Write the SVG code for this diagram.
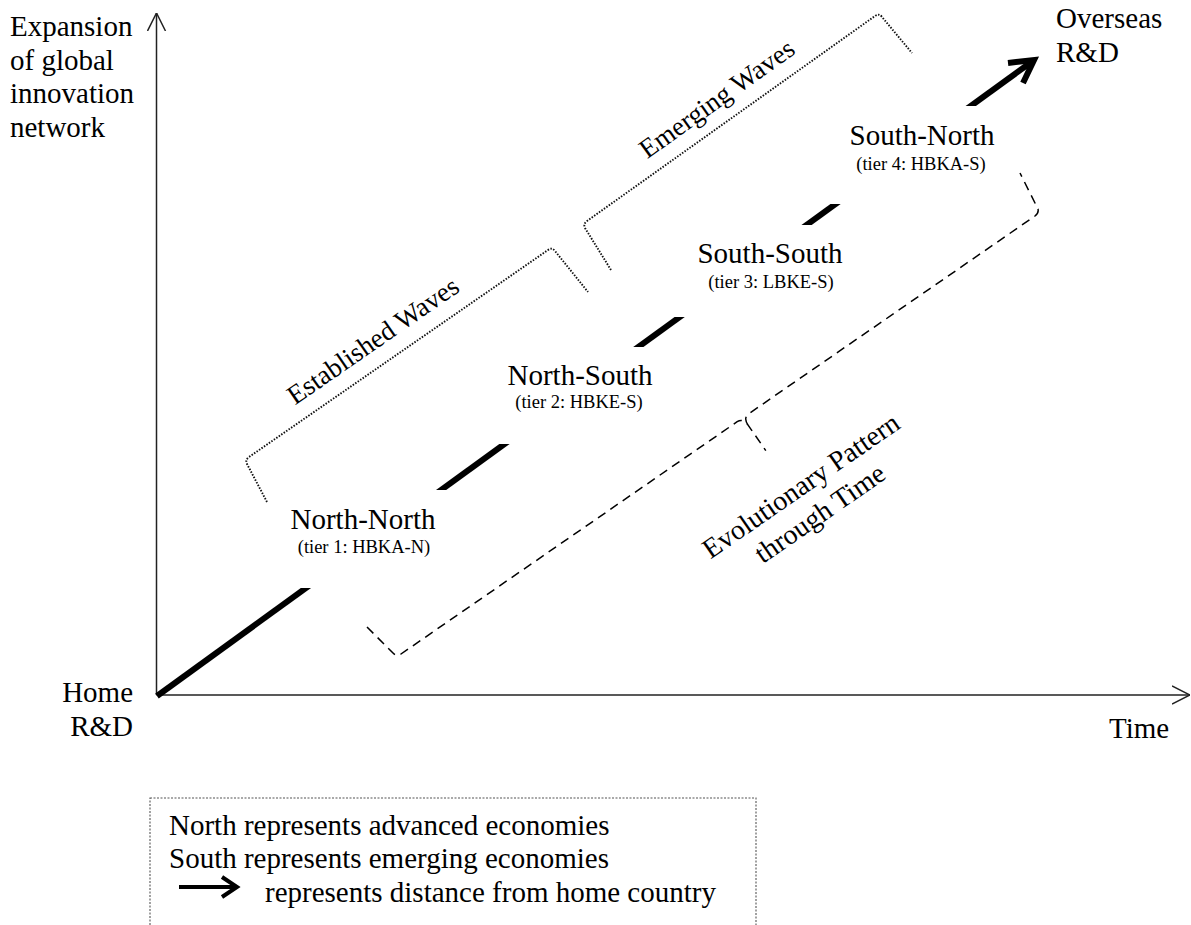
<svg xmlns="http://www.w3.org/2000/svg" width="1191" height="925" viewBox="0 0 1191 925" font-family="'Liberation Serif', 'Times New Roman', serif">
<style>
text{font-family:"Liberation Serif","Times New Roman",serif;fill:#000}
.big{font-size:29px}
.wave{font-size:27px;text-anchor:middle}
.small{font-size:18.5px}
.mid{text-anchor:middle}
.axis{stroke:#222;stroke-width:1.5;fill:none}
.dotted{stroke:#111;stroke-width:1.9;stroke-dasharray:1.5 1.5;fill:none}
.dashed{stroke:#000;stroke-width:1.5;stroke-dasharray:9 6;fill:none}
.thick{stroke:#000;stroke-width:6;fill:none}
.legendbox{stroke:#555;stroke-width:1.1;stroke-dasharray:2 1.5;fill:none}
</style>
<defs>
<marker id="open" viewBox="0 0 18 20" refX="18" refY="10" markerWidth="18" markerHeight="20" markerUnits="userSpaceOnUse" orient="auto"><path d="M0,1 L18,10 L0,19" fill="none" stroke="#222" stroke-width="1.5"/></marker>
<clipPath id="gaps"><rect x="0" y="588" width="1191" height="120"/><rect x="0" y="444" width="1191" height="46"/><rect x="0" y="317" width="1191" height="30"/><rect x="0" y="204" width="1191" height="21"/><rect x="0" y="0" width="1191" height="106"/></clipPath>
</defs>

<g id="connectors">
<line class="axis" x1="156.5" y1="695" x2="156.5" y2="13" marker-end="url(#open)"/>
<line class="axis" x1="156.5" y1="695" x2="1190" y2="695" marker-end="url(#open)"/>
<line class="thick" x1="157" y1="696" x2="1030" y2="63" clip-path="url(#gaps)"/>
<polyline class="thick" points="1008,63 1034,60 1023,83" stroke-linejoin="miter"/>
</g>

<g id="y-axis-label">
<text class="big" x="10" y="36">Expansion</text>
<text class="big" x="10" y="70">of global</text>
<text class="big" x="10" y="103">innovation</text>
<text class="big" x="10" y="137">network</text>
</g>
<g id="overseas-label">
<text class="big" x="1056" y="28">Overseas</text>
<text class="big" x="1056" y="62">R&amp;D</text>
</g>
<g id="home-label">
<text class="big" x="133" y="702" text-anchor="end">Home</text>
<text class="big" x="133" y="736" text-anchor="end">R&amp;D</text>
</g>
<g id="time-label">
<text class="big" x="1109" y="738">Time</text>
</g>

<g id="established-waves">
<path class="dotted" d="M267,502 L247,464 Q245,460 249,457 L548,250 Q552,247 555,251 L588,292"/>
<text class="wave" transform="translate(378,348) rotate(-34.7)">Established Waves</text>
</g>
<g id="emerging-waves">
<path class="dotted" d="M611,270 L585,228 Q583,224 587,221 L875,16 Q879,13 882,17 L912,53"/>
<text class="wave" transform="translate(722,106) rotate(-35.5)">Emerging Waves</text>
</g>
<g id="evolutionary-pattern">
<path class="dashed" d="M367,627 L393,653 Q397,657 401,654 L737.2,421.7 Q743,418 748.1,425.1 L765.8,450.6 M748.1,425.1 Q743,418 748.8,413.7 L1035,216 Q1039,213 1038,209 L1020,173"/>
<g transform="translate(801,486) rotate(-34.7)">
<text class="mid" style="font-size:28px" x="0" y="9">Evolutionary Pattern</text>
<text class="mid" style="font-size:28px" x="0" y="42.5">through Time</text>
</g>
</g>

<g id="tier1">
<text class="big mid" x="363" y="529">North-North</text>
<text class="small mid" x="364" y="553">(tier 1: HBKA-N)</text>
</g>
<g id="tier2">
<text class="big mid" x="580" y="385">North-South</text>
<text class="small mid" x="579" y="408">(tier 2: HBKE-S)</text>
</g>
<g id="tier3">
<text class="big mid" x="770" y="263">South-South</text>
<text class="small mid" x="771" y="288">(tier 3: LBKE-S)</text>
</g>
<g id="tier4">
<text class="big mid" x="922" y="145">South-North</text>
<text class="small mid" x="921" y="170">(tier 4: HBKA-S)</text>
</g>

<g id="legend">
<rect class="legendbox" x="150" y="798" width="606" height="140"/>
<text class="big" x="169" y="835">North represents advanced economies</text>
<text class="big" x="169" y="868">South represents emerging economies</text>
<line x1="179" y1="887" x2="234" y2="887" stroke="#000" stroke-width="4"/>
<polyline points="222,877 237,887 222,897" fill="none" stroke="#000" stroke-width="4"/>
<text class="big" x="265" y="902">represents distance from home country</text>
</g>
</svg>
